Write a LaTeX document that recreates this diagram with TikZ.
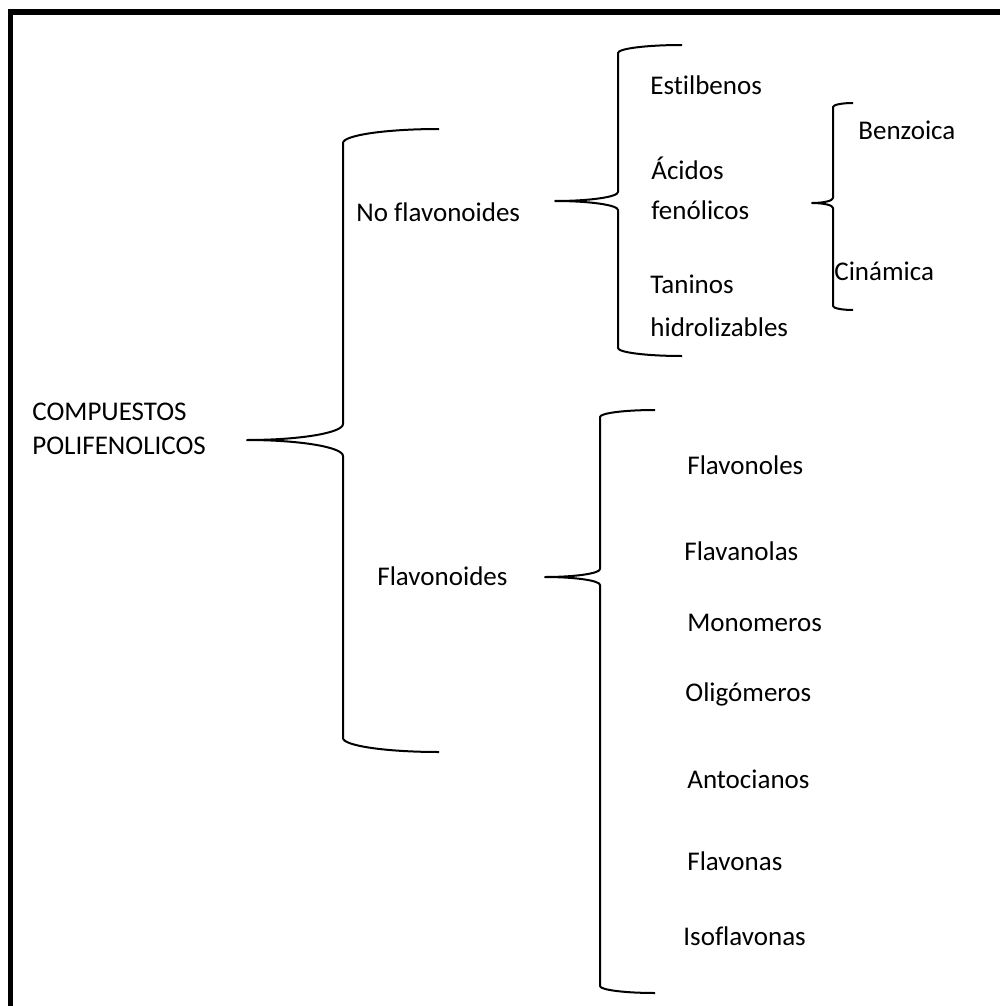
\documentclass[tikz,border=0pt]{standalone}
\usepackage{fontspec}
\setmainfont[Ligatures=NoCommon]{Carlito}
\usepackage{tikz}
\usetikzlibrary{calc}
\tikzset{
  label/.style={anchor=base west,inner sep=0pt,font=\fontsize{13.5}{17}\selectfont},
  twoline/.style={label,align=left},
  bracestyle/.style={line width=1pt,line join=round},
  frame/.style={line width=2.6pt,line join=miter}
}
% word-like curly brace: end x, top y, stem x, tip x, tip y, bottom y, end bend, tip bend
\newcommand{\wordbrace}[8]{%
  \draw[bracestyle] (#1,#2)
    .. controls ({#1-0.552*(#1-#3)},#2) and (#3,{#2+0.448*#7}) .. (#3,{#2+#7})
    -- (#3,{#5-#8})
    .. controls (#3,{#5-0.448*#8}) and ({#4+0.552*(#3-#4)},#5) .. (#4,#5)
    .. controls ({#4+0.552*(#3-#4)},#5) and (#3,{#5+0.448*#8}) .. (#3,{#5+#8})
    -- (#3,{#6-#7})
    .. controls (#3,{#6-0.448*#7}) and ({#1-0.552*(#1-#3)},#6) .. (#1,#6);
}

\begin{document}
\begin{tikzpicture}[x=0.5pt,y=-0.5pt]
  \useasboundingbox (0,0) rectangle (1000,1006);
  \draw[frame] (10.5,1010) -- (10.5,12) -- (1010,12);

  % root (base = last line)
  \node[twoline] (root) at (32,454) {COMPUESTOS\\POLIFENOLICOS};
  \wordbrace{439}{129}{343}{247}{440}{752}{14}{16}

  % no flavonoides
  \node[label] (noflav) at (356,221) {No flavonoides};
  \wordbrace{682}{45}{618}{555}{201}{356}{8}{9}
  \node[label] (estil) at (650,95) {Estilbenos};
  \node[twoline,font=\fontsize{13.5}{20}\selectfont] (acidos) at (651,219) {Ácidos\\fenólicos};
  \node[twoline,font=\fontsize{13.5}{21.5}\selectfont] (taninos) at (650,336) {Taninos\\hidrolizables};

  % acidos fenolicos
  \wordbrace{853}{103}{833}{812}{203}{310}{4}{5}
  \node[label] (benzo) at (858,140) {Benzoica};
  \node[label] (cina) at (834,280) {Cinámica};

  % flavonoides
  \node[label] (flav) at (377,585) {Flavonoides};
  \wordbrace{655}{410}{600}{545}{577}{993}{7}{8}
  \node[label] (flavonoles) at (687,474) {Flavonoles};
  \node[label] (flavanolas) at (684,560) {Flavanolas};
  \node[label] (mono) at (687,631) {Monomeros};
  \node[label] (oligo) at (685,701) {Oligómeros};
  \node[label] (antoc) at (687,788) {Antocianos};
  \node[label] (flavonas) at (687,870) {Flavonas};
  \node[label] (isoflav) at (683,945) {Isoflavonas};
\end{tikzpicture}
\end{document}
